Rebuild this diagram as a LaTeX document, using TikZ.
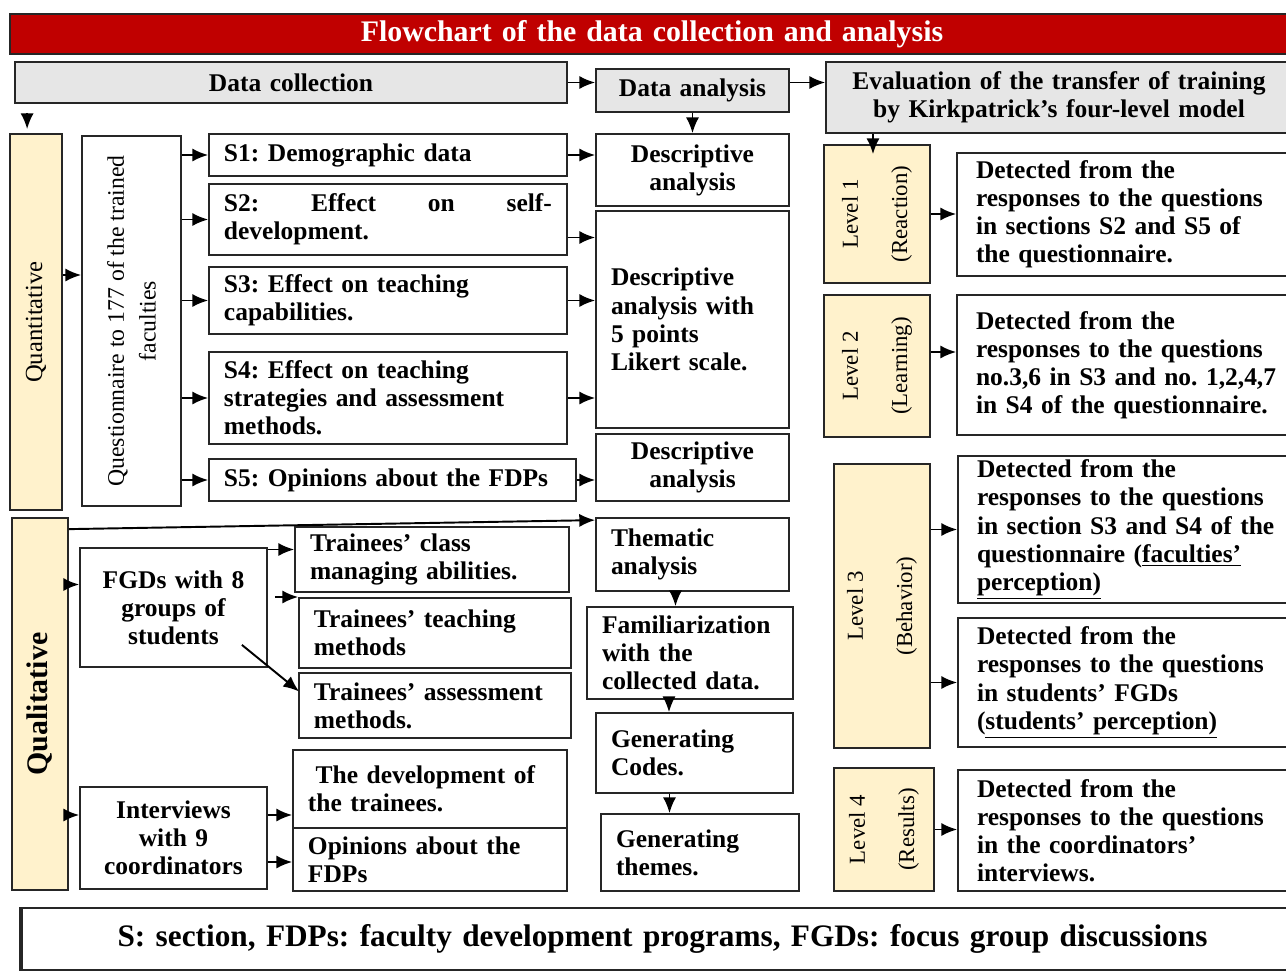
\documentclass[tikz,border=0pt]{standalone}
\usepackage{fontspec}
\setmainfont{Liberation Serif}
\usepackage{tikz}
\usepackage{xcolor}
\usetikzlibrary{arrows.meta}
\usetikzlibrary{calc}

\definecolor{titlered}{HTML}{C00000}
\definecolor{cream}{HTML}{FFF2CC}
\definecolor{headgray}{HTML}{E6E6E6}
\frenchspacing

\begin{document}
\begin{tikzpicture}[x=0.02cm, y=-0.02cm,
  boxat/.style args={#1/#2/#3/#4}{minimum width={(#3-#1)*0.02cm},
    minimum height={(#4-#2)*0.02cm},
    text width={(#3-#1)*0.02cm-2*\pgfkeysvalueof{/pgf/inner xsep}},
    at={({(#1+#3)/2},{(#2+#4)/2})}},
  box/.style={draw=black!85, line width=1pt, fill=white, inner xsep=0.3cm,
    inner ysep=1pt, align=left, font=\fontsize{14.5}{16}\selectfont\bfseries},
  cbox/.style={box, align=center},
  head/.style={box, fill=headgray, align=center},
  side/.style={box, fill=cream},
  detect/.style={box, inner xsep=0.38cm},
  vlabel/.style={rotate=90, align=center, font=\fontsize{13}{28}\selectfont},
  arr/.style={-{Latex[length=9pt,width=7.5pt]}, line width=1.1pt}]

  \clip (0,0) rectangle (1286,971);
  \fill[white] (0,0) rectangle (1286,971);

  % headers
  \node[box, fill=titlered, text=white, align=center, boxat=10/14/1294/54,
    font=\fontsize{17}{20}\selectfont\bfseries] (Title)
    {\raisebox{-0.06cm}{Flowchart of the data collection and analysis}};
  \node[head, boxat=15/62/567/103] (DC) {Data collection};
  \node[head, boxat=596/69/789/112] (DA) {Data analysis};
  \node[head, boxat=826/62/1292/133] (Eval)
    {Evaluation of the transfer of training\\by Kirkpatrick's four-level model};

  % quantitative part
  \node[side, boxat=10/134/62/510] (Quant) {};
  \node[rotate=90, font=\fontsize{14}{16}\selectfont] (Quant-t) at (Quant) {Quantitative};
  \node[box, boxat=82/136/181/506] (Quest) {};
  \node[rotate=90, align=center, font=\fontsize{13.5}{18}\selectfont] (Quest-t) at (Quest)
    {Questionnaire to 177 of the trained\\faculties};

  \node[box, boxat=209/134/567/176] (S1) {S1: Demographic data};
  \node[box, boxat=209/184/567/255] (S2)
    {\hbox to 6.56cm{S2:\hfill Effect\hfill on\hfill self-}\\development.};
  \node[box, boxat=209/267/567/334] (S3) {S3: Effect on teaching\\capabilities.};
  \node[box, boxat=209/352/567/444] (S4)
    {S4: Effect on teaching\\strategies and assessment\\methods.};
  \node[box, boxat=209/459/576/501] (S5) {S5: Opinions about the FDPs};

  \node[cbox, boxat=596/134/789/206] (DA1) {Descriptive\\analysis};
  \node[box, boxat=596/211/789/428] (DA2)
    {Descriptive\\analysis with\\5 points\\Likert scale.};
  \node[cbox, boxat=596/434/789/501] (DA3) {Descriptive\\analysis};

  % qualitative part
  \node[side, boxat=12/518/68/890] (Qual) {};
  \node[rotate=90, font=\fontsize{17}{20}\selectfont\bfseries] (Qual-t) at (Qual) {Qualitative};
  \node[cbox, boxat=80/548/267/667] (FGD) {FGDs with 8\\groups of\\students};
  \node[box, boxat=295/527/569/592] (Class) {Trainees' class\\managing abilities.};
  \node[box, boxat=299/598/571/668] (Teach) {Trainees' teaching\\methods};
  \node[box, boxat=299/673/571/738] (Assess) {Trainees' assessment\\methods.};
  \node[cbox, boxat=80/787/267/889] (Int) {Interviews\\with 9\\coordinators};
  \node[box, boxat=293/750/567/828] (Dev) {\hspace*{0.3em}The development of\\the trainees.};
  \node[box, boxat=293/828/567/891] (Opin) {Opinions about the\\FDPs};

  \node[box, boxat=596/518/789/591] (Them) {Thematic\\analysis};
  \node[box, boxat=587/607/793/699] (Fam) {Familiarization\\with the\\collected data.};
  \node[box, boxat=596/713/793/793] (Codes) {Generating\\Codes.};
  \node[box, boxat=601/814/799/891] (Themes) {Generating\\themes.};

  % Kirkpatrick levels
  \foreach \n/\xa/\ya/\xb/\yb in {L1/824/145/930/283, L2/824/295/930/437,
                                  L3/834/464/930/748, L4/834/768/934/891}
    \node[side, boxat=\xa/\ya/\xb/\yb] (\n) {};
  \foreach \n/\k/\w in {L1/1/Reaction, L2/2/Learning, L3/3/Behavior, L4/4/Results}
    \node[vlabel] (\n-t) at (\n) {Level \k\\(\w)};

  \node[detect, boxat=957/153/1310/276] (D1)
    {Detected from the\\responses to the questions\\in sections S2 and S5 of\\the questionnaire.};
  \node[detect, boxat=957/295/1310/435] (D2)
    {Detected from the\\responses to the questions\\no.3,6 in S3 and no. 1,2,4,7\\in S4 of the questionnaire.};
  \node[detect, boxat=958/456/1310/603] (D3)
    {Detected from the\\responses to the questions\\in section S3 and S4 of the\\questionnaire (\underline{faculties'}\\\underline{perception)}};
  \node[detect, boxat=958/618/1310/747] (D4)
    {Detected from the\\responses to the questions\\in students' FGDs\\(\underline{students' perception)}};
  \node[detect, boxat=958/770/1310/891] (D5)
    {Detected from the\\responses to the questions\\in the coordinators'\\interviews.};

  \node[cbox, boxat=22/908/1303/970, font=\fontsize{17.8}{22}\selectfont\bfseries] (Leg)
    {\raisebox{-0.14cm}{S: section, FDPs: faculty development programs, FGDs: focus group discussions}};
  \draw[line width=2.5pt, black!85] (Leg.north west) -- (Leg.south west);

  % connectors
  \draw[arr] (DC) -- (DC -| DA.west);
  \draw[arr] (DA.east |- DC) -- (Eval.west |- DC);
  \draw[arr] ($(DC.south west)+(13,9)$) -- ($(Quant.north west)+(18,-4)$);
  \draw[arr] ($(Quant.east)+(0,-47)$) -- ($(Quant.east -| Quest.west)+(0,-47)$);
  \foreach \s in {S1,S2,S3,S4,S5}
    \draw[arr] (Quest.east |- \s) -- (\s);
  \draw[arr] (S1) -- (S1 -| DA1.west);
  \draw[arr] ($(S2.east)+(0,18)$) -- ($(S2.east -| DA2.west)+(0,18)$);
  \draw[arr] (S3) -- (S3 -| DA2.west);
  \draw[arr] (S4) -- (S4 -| DA2.west);
  \draw[arr] (S5) -- (S5 -| DA3.west);
  \draw[arr] (DA) -- (DA1);

  \draw[arr] ($(Qual.north east)+(0,12)$) -- ($(Them.north west)+(0,3)$);
  \draw[arr] ($(Qual.east |- FGD.west)+(0,-23)$) -- ($(FGD.west)+(0,-23)$);
  \draw[arr] ($(FGD.east |- Class.west)+(0,-10)$) -- ($(Class.west)+(0,-10)$);
  \draw[arr] ($(FGD.east |- Teach.west)+(7,-36)$) -- ($(Teach.west)+(0,-36)$);
  \draw[arr] ($(FGD.south east)+(-26,-23)$) -- ($(Assess.west)+(1,-14)$);
  \draw[arr] ($(Qual.east |- Int.west)+(0,-23)$) -- ($(Int.west)+(0,-23)$);
  \draw[arr] ($(Int.east)+(0,-23)$) -- ($(Int.east -| Dev.west)+(0,-23)$);
  \draw[arr] ($(Int.east)+(0,24)$) -- ($(Int.east -| Opin.west)+(0,24)$);
  \draw[arr] ($(Them.south)+(-17,0)$) -- ($(Them.south |- Fam.north)+(-17,0)$);
  \draw[arr] ($(Fam.south)+(-21,0)$) -- ($(Fam.south |- Codes.north)+(-21,0)$);
  \draw[arr] ($(Codes.south)+(-25,0)$) -- ($(Codes.south |- Themes.north)+(-25,0)$);

  \draw[arr, shorten >=-0.2cm] ($(Eval.south -| L1)+(-4,0)$) -- ($(L1.north)+(-4,0)$);
  \draw[arr] (L1) -- (L1 -| D1.west);
  \draw[arr] ($(L2.east)+(0,-14)$) -- ($(L2.east -| D2.west)+(0,-14)$);
  \draw[arr] (L3.east |- D3.west) -- (D3.west);
  \draw[arr] (L3.east |- D4.west) -- (D4.west);
  \draw[arr] (L4) -- (L4 -| D5.west);
\end{tikzpicture}
\end{document}
